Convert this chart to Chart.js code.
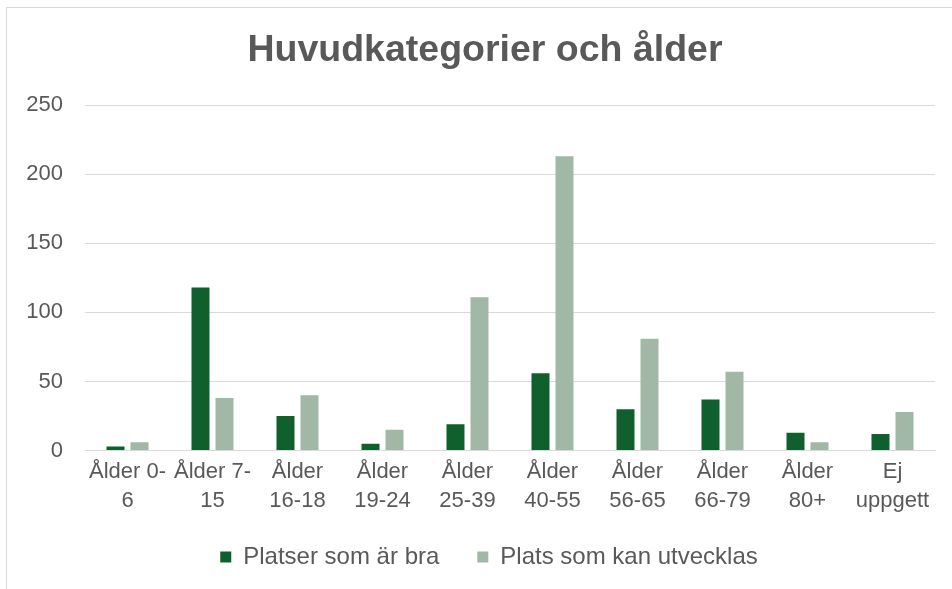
<!DOCTYPE html>
<html>
<head>
<meta charset="utf-8">
<script src="https://cdn.jsdelivr.net/npm/chart.js@4"></script>
<style>
  body { margin: 0; background: #fff; overflow: hidden; }
  #frame {
    position: absolute; left: 6px; top: 7px;
    border: 1px solid #d9d9d9;
    width: 956px; height: 600px;
  }
</style>
</head>
<body>
<div id="frame"><canvas id="ageChart" width="956" height="581"></canvas></div>
<script>
// kategorier (två rader per etikett, som i originalet)
var categories = [
  ["Ålder 0-", "6"],
  ["Ålder 7-", "15"],
  ["Ålder", "16-18"],
  ["Ålder", "19-24"],
  ["Ålder", "25-39"],
  ["Ålder", "40-55"],
  ["Ålder", "56-65"],
  ["Ålder", "66-79"],
  ["Ålder", "80+"],
  ["Ej", "uppgett"],
];
var seriesNames = ["Platser som är bra", "Plats som kan utvecklas"];
var bra = [3, 118, 25, 5, 19, 56, 30, 37, 13, 12];
var utvecklas = [6, 38, 40, 15, 111, 213, 81, 57, 6, 28];
var yTicks = [0, 50, 100, 150, 200, 250];

var textColor = "#595959";
var gridColor = "#d9d9d9";
var fontFamily = "'Liberation Sans', Arial, sans-serif";

// titel och förklaring sitter lite till höger / högre upp i originalet
var nudge = {
  id: "nudge",
  afterLayout: function (chart) {
    chart.titleBlock.left += 14;
    chart.titleBlock.right += 14;
    chart.legend.left += 18;
    chart.legend.right += 18;
    chart.legend.top -= 15;
    chart.legend.bottom -= 15;
  },
};

var ctx = document.getElementById("ageChart").getContext("2d");
var ageChart = new Chart(ctx, {
  type: "bar",
  data: {
    labels: categories,
    datasets: [
      {
        label: seriesNames[0],
        data: bra,
        backgroundColor: "#10602d",
        categoryPercentage: 0.565,
        barPercentage: 0.75,
      },
      {
        label: seriesNames[1],
        data: utvecklas,
        backgroundColor: "#a2b8a6",
        categoryPercentage: 0.565,
        barPercentage: 0.75,
      },
    ],
  },
  plugins: [nudge],
  options: {
    responsive: false,
    animation: false,
    devicePixelRatio: 1,
    layout: { padding: { left: 0, right: 28, top: 0, bottom: 8 } },
    plugins: {
      title: {
        display: true,
        text: "Huvudkategorier och ålder",
        color: textColor,
        font: { family: fontFamily, size: 37.5, weight: "bold" },
        padding: { top: 20, bottom: 32 },
      },
      legend: {
        position: "bottom",
        maxHeight: 59,
        labels: {
          color: textColor,
          font: { family: fontFamily, size: 24 },
          boxWidth: 11,
          boxHeight: 11,
          padding: 38,
        },
      },
      tooltip: { enabled: false },
    },
    scales: {
      x: {
        grid: { display: false, drawTicks: false },
        border: { color: gridColor, width: 1 },
        ticks: {
          color: textColor,
          font: { family: fontFamily, size: 22, lineHeight: 1.35 },
          padding: 6,
          maxRotation: 0,
          autoSkip: false,
        },
      },
      y: {
        min: 0,
        max: 250,
        afterBuildTicks: function (scale) {
          scale.ticks = yTicks.map(function (v) { return { value: v }; });
        },
        afterFit: function (scale) {
          scale.width = 78;
        },
        grid: { color: gridColor, drawTicks: false },
        border: { display: false },
        ticks: {
          color: textColor,
          font: { family: fontFamily, size: 22 },
          padding: 22,
        },
      },
    },
  },
});
</script>
</body>
</html>
